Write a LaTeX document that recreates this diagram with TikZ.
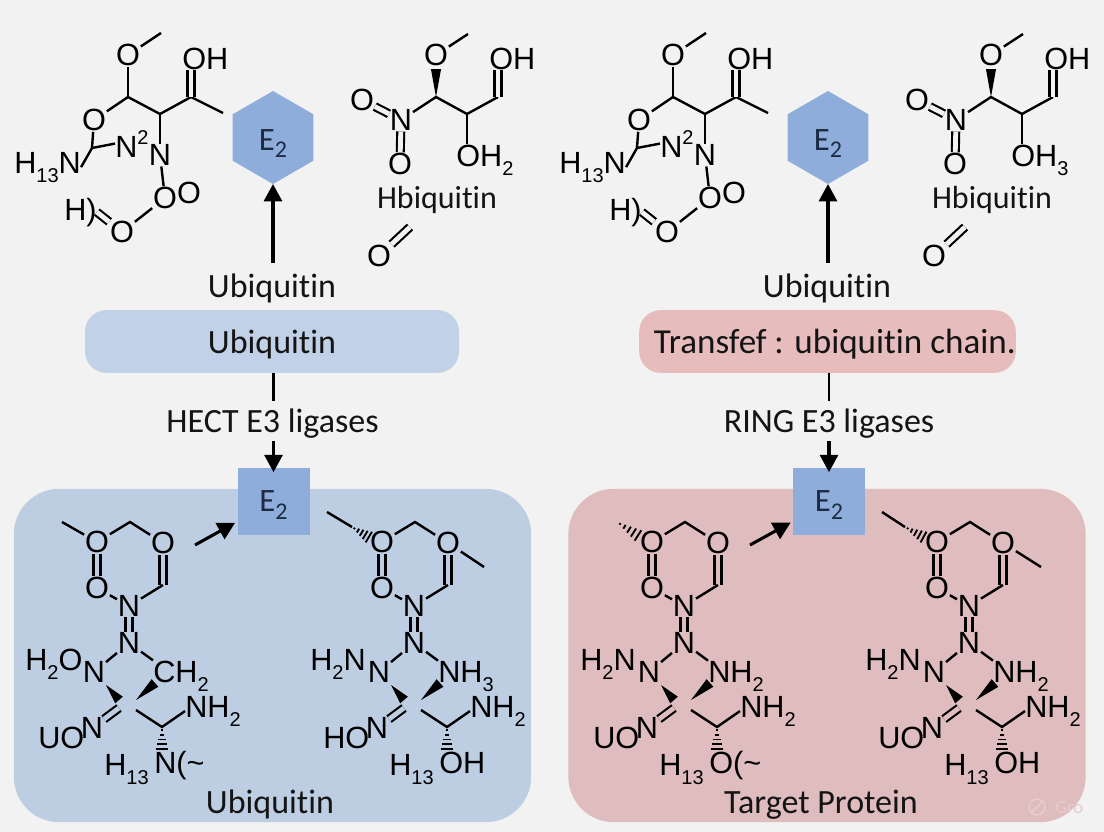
\documentclass[tikz,border=0pt]{standalone}
\usepackage{fontspec}
\setmainfont{Carlito}[Ligatures=NoCommon]
\newfontfamily\atomfont{Liberation Sans}
\usetikzlibrary{shapes, arrows.meta, calc}

\definecolor{pagegray}{HTML}{F2F2F2}
\definecolor{hexblue}{HTML}{8FADDA}
\definecolor{panelblue}{HTML}{BDCEE3}
\definecolor{panelpink}{HTML}{DFBCBD}
\definecolor{pillblue}{HTML}{C1D1E7}
\definecolor{pillpink}{HTML}{E6BCBC}
\definecolor{markpink}{HTML}{E7CDCE}
\definecolor{labelnavy}{HTML}{1C2B45}
\colorlet{bondcore}{pagegray}

\newcommand{\lowtxt}[1]{\raisebox{-0.3em}{\fontsize{15}{15}\selectfont #1}}
\newcommand{\hightxt}[1]{\raisebox{0.42em}{\fontsize{15}{15}\selectfont #1}}
\newcommand{\etwo}{E\raisebox{-0.22em}{\fontsize{18}{18}\selectfont 2}}
\newcommand{\wedgebond}[2]{\fill ($(#2)!3.8pt!90:(#1)$) -- (#1) -- ($(#2)!3.8pt!-90:(#1)$) -- cycle;}
\newcommand{\hashbond}[2]{\foreach \t in {0.12,0.3,0.48,0.66,0.84,1}
    \draw[line width=1.4pt] ($(#1)!\t!(#2)!\t*5.5pt!90:(#2)$) -- ($(#1)!\t!(#2)!\t*5.5pt!-90:(#2)$);}

\begin{document}
\begin{tikzpicture}[
    x=0.75pt, y=-0.75pt,
    atom/.style={font=\atomfont\fontsize{23}{23}\selectfont, inner sep=0.5pt, text=black},
    group/.style={atom, anchor=base west, inner sep=0pt},
    bond/.style={line width=1.8pt},
    dbond/.style={line width=1.6pt, double=bondcore, double distance=3.6pt},
    arrow/.style={-{Triangle[length=13pt, width=13.5pt]}, line width=2.3pt},
    link/.style={line width=1.9pt},
    title/.style={font=\fontsize{25.5}{25.5}\selectfont, text=black!92, inner sep=0pt, anchor=base},
    hexbox/.style={regular polygon, regular polygon sides=6, shape border rotate=30, minimum size=69.75pt, fill=hexblue, inner sep=0pt, outer sep=0pt, font=\fontsize{24.5}{24.5}\selectfont, text=labelnavy, text height=19pt, text depth=0pt},
    squarebox/.style={rectangle, fill=hexblue, minimum width=54pt, minimum height=50pt, inner sep=0pt, outer sep=0pt, font=\fontsize{24.5}{24.5}\selectfont, text=labelnavy, text height=15.5pt, text depth=0pt},
    pill/.style={rectangle, rounded corners=16pt, minimum width=280.5pt, minimum height=47pt, inner sep=0pt, outer sep=0pt, font=\fontsize{25.5}{25.5}\selectfont, text=black!92, text height=17.25pt, text depth=0pt},
    panel/.style={rectangle, rounded corners=34pt, minimum width=388pt, minimum height=250pt, inner sep=0pt, outer sep=0pt}
]
    \useasboundingbox (0,0) rectangle (1104,832);
    \fill[pagegray] (0,0) rectangle (1104,832);

    \node[panel, fill=panelblue] (panela) at (272.5,655.5) {};
    \node[panel, fill=panelpink] (panelb) at (827,655.5) {};
    \node[pill, fill=pillblue] (pilla) at (272,341.5) {Ubiquitin};
    \node[pill, fill=pillpink] (pillb) at (827.5,341.5) {\hspace*{11pt}\fontsize{26.3}{26.3}\selectfont Transfef : ubiquitin chain.};

    % upper molecule, left of each hexagon
    \foreach \pre/\dx in {ua/0, ub/545} {
    \begin{scope}[shift={(\dx,0)}, name prefix=\pre-]
        \coordinate (me) at (161,33);
        \node[atom] (o1) at (128,55) {O};
        \coordinate (c1) at (128,97);
        \node[atom] (o2) at (94,120) {O};
        \coordinate (c2) at (92,148);
        \coordinate (c3) at (160,114);
        \coordinate (c4) at (191,97);
        \coordinate (c5) at (223,113);
        \node[group] (oh) at (182,69) {OH};
        \node[group] (hn) at (14,173) {H\lowtxt{13}N};
        \node[group] (nn) at (115,157) {N\hightxt{2}};
        \node[atom] (n1) at (160,155) {N};
        \node[atom] (o3) at (165,198) {O};
        \node[atom] (o4) at (189,193) {O};
        \node[atom] (o5) at (122,232) {O};
        \node[group] (hh) at (64,220) {H)};
        \draw[bond] (me) -- (o1);
        \draw[bond] (o1) -- (c1);
        \draw[bond] (c1) -- (o2);
        \draw[bond] (c1) -- (c3) -- (c4) -- (c5);
        \draw[bond] (o2) -- (c2);
        \draw[bond] (c2) -- (hn.east);
        \draw[bond] (c2) -- (nn.west);
        \draw[bond] (c3) -- (n1);
        \draw[bond] (n1) -- (o3);
        \draw[bond] (o3) -- (o5);
        \draw[dbond] (c4) -- (c4 |- oh.south);
        \draw[dbond] (hh.east) -- (o5);
    \end{scope}
    }

    % hexagon column and upper molecule on its right
    \foreach \pre/\dx/\lastsub in {va/0/2, vb/555/3} {
    \begin{scope}[shift={(\dx,0)}, name prefix=\pre-]
        \node[hexbox] (hex) at (273,137.5) {\etwo};
        \node[title] (ubq) at (272,297) {Ubiquitin};
        \draw[arrow] ([yshift=7.5pt]hex.south |- ubq.north) -- (hex.south);

        \coordinate (me) at (468,34);
        \node[atom] (o1) at (436,55) {O};
        \coordinate (c1) at (436,97);
        \coordinate (c2) at (467,114);
        \coordinate (c3) at (498,97);
        \node[group] (oh) at (489,69) {OH};
        \node[group] (ohb) at (456,166) {OH\lowtxt{\lastsub}};
        \node[atom] (n1) at (401,120) {N};
        \node[atom] (o2) at (362,100) {O};
        \node[atom] (o3) at (400,164) {O};
        \node[font=\fontsize{24}{24}\selectfont, text=black!92, inner sep=0pt, anchor=base] (hbq) at (437,208) {Hbiquitin};
        \node[atom] (o4) at (379,256) {O};
        \coordinate (free) at (410,227);
        \draw[bond] (me) -- (o1);
        \coordinate (wtop) at (436,69);
        \wedgebond{c1}{wtop}
        \draw[bond] (n1) -- (c1) -- (c2) -- (c3);
        \draw[bond] (c2) -- (c2 |- ohb.north);
        \draw[dbond] (c3) -- (c3 |- oh.south);
        \draw[dbond] (o2) -- (n1);
        \draw[dbond] (n1) -- (o3);
        \draw[dbond] (o4) -- (free);
    \end{scope}
    }

    % lower molecules in the two panels
    \foreach \pre/\dx/\corecol/\lefttxt/\righttxt/\ulabel/\endtxt in {
        pa/0/panelblue/{H\lowtxt{2}O}/{CH\lowtxt{2}}/{UO}/{N(\textasciitilde},
        pb/285/panelblue/{H\lowtxt{2}N}/{NH\lowtxt{3}}/{HO}/{OH},
        pc/555/panelpink/{H\lowtxt{2}N}/{NH\lowtxt{2}}/{UO}/{O(\textasciitilde},
        pd/840/panelpink/{H\lowtxt{2}N}/{NH\lowtxt{2}}/{UO}/{OH}} {
    \begin{scope}[shift={(\dx,0)}, name prefix=\pre-]
        \colorlet{bondcore}{\corecol}
        \node[atom] (o1) at (97,542) {O};
        \coordinate (c1) at (130,522);
        \node[atom] (o2) at (163,543) {O};
        \coordinate (c2) at (163,585);
        \node[atom] (o3) at (97,588) {O};
        \node[atom] (n1) at (129,606) {N};
        \node[atom] (n2) at (129,643) {N};
        \node[atom] (n3) at (94,672) {N};
        \node[group] (ltxt) at (25,670) {\lefttxt};
        \node[group] (rtxt) at (153,682) {\righttxt};
        \node[atom] (n4) at (92,728) {N};
        \node[group] (utxt) at (38,748) {\ulabel};
        \node[group] (htxt) at (104,775) {H\lowtxt{13}};
        \node[group] (etxt) at (154,773) {\endtxt};
        \node[group] (ntxt) at (185,717) {NH\lowtxt{2}};
        \coordinate (c3) at (136,710);
        \coordinate (c4) at (162,727);
        \coordinate (c5) at (119,708);
        \coordinate (h1) at (162,753);
        \coordinate (w1) at (106,685);
        \coordinate (w2) at (119,700);
        \coordinate (w3) at (136,700);
        \coordinate (w4) at (155,683);
        \draw[bond] (o1) -- (c1) -- (o2);
        \draw[dbond] (o1) -- (o3);
        \draw[dbond] (o2) -- (c2);
        \draw[bond] (o3) -- (n1);
        \draw[bond] (c2) -- (n1);
        \draw[dbond] (n1) -- (n2);
        \draw[bond] (n2) -- (n3);
        \draw[bond] (n2) -- (rtxt.north west);
        \wedgebond{w1}{w2}
        \wedgebond{w3}{w4}
        \draw[dbond] (n4) -- (c5);
        \draw[bond] (c3) -- (c4) -- (ntxt.west);
        \hashbond{c4}{h1}
    \end{scope}
    }

    % methyl ends
    \coordinate (mea) at (62,522);
    \draw[bond] (mea) -- (pa-o1);
    \coordinate (meb) at (327,512);
    \coordinate (hsb) at (352,527);
    \coordinate (heb) at (372,539);
    \coordinate (mrb) at (484,567);
    \draw[bond] (meb) -- (hsb);
    \hashbond{hsb}{heb}
    \draw[bond] (pb-o2) -- (mrb);
    \coordinate (hsc) at (617,522);
    \coordinate (hec) at (642,538);
    \hashbond{hsc}{hec}
    \coordinate (med) at (882,512);
    \coordinate (hsd) at (905,527);
    \coordinate (hed) at (927,539);
    \coordinate (mrd) at (1041,567);
    \draw[bond] (med) -- (hsd);
    \hashbond{hsd}{hed}
    \draw[bond] (pd-o2) -- (mrd);

    % middle column
    \node[title] (hect) at (272.5,432) {HECT E3 ligases};
    \node[title] (ring) at (829,432) {RING E3 ligases};
    \node[squarebox] (e2a) at (273.5,501.5) {\etwo};
    \node[squarebox] (e2b) at (829,501.5) {\etwo};
    \draw[link] (e2a.north |- pilla.south) -- ([yshift=5pt]e2a.north |- hect.north);
    \draw[link] (e2b.north |- pillb.south) -- ([yshift=5pt]e2b.north |- ring.north);
    \draw[arrow, shorten >=-3pt] ([yshift=-2.5pt]e2a.north |- hect.south) -- (e2a.north);
    \draw[arrow, shorten >=-3pt] ([yshift=-2.5pt]e2b.north |- ring.south) -- (e2b.north);
    \coordinate (taila) at (195,545);
    \coordinate (tailb) at (750,545);
    \draw[arrow, shorten >=2pt] (taila) -- (e2a);
    \draw[arrow, shorten >=2pt] (tailb) -- (e2b);

    \node[title] (ubqc) at (270,813) {Ubiquitin};
    \node[title] (target) at (821,813) {Target Protein};
    \node[circle, draw=markpink, line width=1.2pt, minimum size=12pt, inner sep=0pt] (markring) at (1037,807) {};
    \draw[markpink, line width=1.2pt] (markring.south west) -- (markring.north east);
    \node[font=\fontsize{14}{14}\selectfont, text=markpink, inner sep=0pt, anchor=base west] (mark) at (1055,813) {Gro};
\end{tikzpicture}
\end{document}
